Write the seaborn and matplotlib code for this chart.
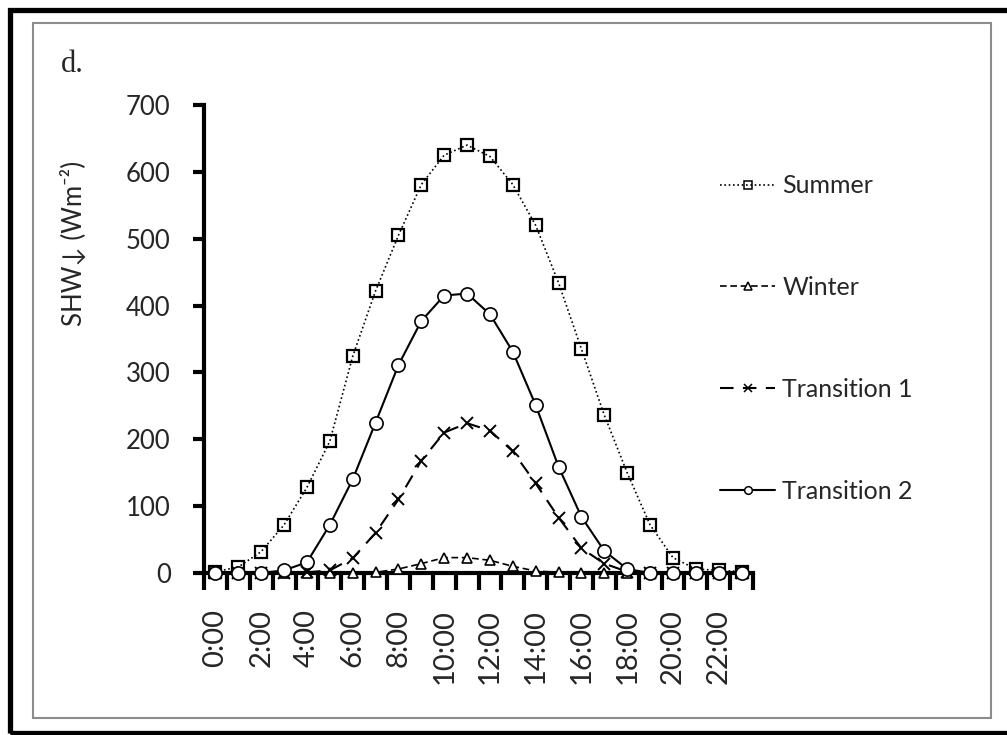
import numpy as np
import pandas as pd
import matplotlib
matplotlib.use("Agg")
import matplotlib.pyplot as plt
from matplotlib.patches import Rectangle
import seaborn as sns

# ---- data ----
hours = [f"{h}:00" for h in range(24)]
summer = [2, 9, 32, 72, 128, 197, 324, 422, 505, 581, 625, 640,
          623, 581, 520, 434, 335, 236, 150, 72, 23, 6, 4, 2]
winter = [0, 0, 0, 0, 0, 0, 0, 1, 6, 14, 23, 23,
          19, 10, 3, 1, 0, 0, 0, 0, 0, 0, 0, 0]
trans1 = [0, 0, 0, 0, 1, 4, 22, 60, 110, 168, 210, 224,
          213, 182, 134, 83, 37, 14, 2, 0, 0, 0, 0, 0]
trans2 = [0, 0, 0, 4, 16, 72, 140, 225, 311, 377, 415, 418,
          387, 331, 251, 159, 84, 33, 6, 0, 0, 0, 0, 0]
series_names = ["Summer", "Winter", "Transition 1", "Transition 2"]
y_ticks = [0, 100, 200, 300, 400, 500, 600, 700]

sns.set_style("ticks")
plt.rcParams["font.family"] = ["Lato", "DejaVu Sans"]

W, H = 1007, 735
fig = plt.figure(figsize=(W / 100, H / 100), dpi=100)
ax = fig.add_axes([204 / W, 1 - 573 / H, (753 - 204) / W, (573 - 105) / H])

x = np.arange(len(hours))
df = pd.DataFrame({"x": x, "Summer": summer, "Winter": winter,
                   "Transition 1": trans1, "Transition 2": trans2})

styles = {
    "Summer": dict(marker="s", markersize=8.5, markerfacecolor="none",
                   markeredgewidth=1.6, linestyle=(0, (1, 1.6)), linewidth=1.2),
    "Winter": dict(marker="^", markersize=7.5, markerfacecolor="white",
                   markeredgewidth=1.2, linestyle=(0, (4, 2.2)), linewidth=1.2),
    "Transition 1": dict(marker="x", markersize=8.5, markerfacecolor="none",
                         markeredgewidth=1.4, linestyle=(0, (6.5, 4.5)), linewidth=1.5),
    "Transition 2": dict(marker="o", markersize=9.5, markerfacecolor="white",
                         markeredgewidth=1.2, linestyle="-", linewidth=1.5),
}

for name in series_names:
    sns.lineplot(data=df, x="x", y=name, ax=ax, color="black",
                 markeredgecolor="black", label=name, clip_on=False,
                 zorder=5, **styles[name])

ax.set_xlim(-0.5, 23.5)
ax.set_ylim(0, 700)
ax.set_yticks(y_ticks)
ax.set_yticklabels([str(v) for v in y_ticks])
ax.set_xticks(x[::2])
ax.set_xticklabels(hours[::2], rotation=90)
ax.set_xticks(np.arange(-0.5, 24, 1), minor=True)
ax.tick_params(axis="x", which="major", length=0, pad=26, labelsize=21)
ax.tick_params(axis="x", which="minor", length=12, width=3, direction="out", color="black")
ax.tick_params(axis="y", which="major", length=8, width=3, direction="out",
               pad=16, labelsize=18.5, color="black")
ax.set_xlabel("")
ax.set_ylabel("")
for s in ["top", "right"]:
    ax.spines[s].set_visible(False)
for s in ["left", "bottom"]:
    ax.spines[s].set_linewidth(3)
    ax.spines[s].set_color("black")
    ax.spines[s].set_zorder(4)

# legend
handles, labels = ax.get_legend_handles_labels()
leg = ax.legend(handles, labels, loc="center left",
                bbox_to_anchor=(720 / W, 1 - 338.5 / H),
                bbox_transform=fig.transFigure, frameon=False,
                fontsize=18, handlelength=2.2, handletextpad=0.3,
                labelspacing=3.15, borderpad=0, borderaxespad=0, numpoints=1)
for h in leg.legend_handles:
    h.set_markersize(5.5)
    h.set_markeredgewidth(1.1)

# texts
fig.text(73 / W, 1 - 243 / H, "SHW\u2193 (Wm\u207b\u00b2)", rotation=90,
         ha="center", va="center", fontsize=18.5, family=["Lato", "DejaVu Sans"])
fig.text(61 / W, 1 - 72 / H, "d.", fontsize=22, family="Liberation Serif",
         ha="left", va="baseline")

# frames
fig.add_artist(Rectangle((33 / W, 1 - 718 / H), (991 - 33) / W, (718 - 23) / H,
                         transform=fig.transFigure, fill=False,
                         edgecolor="#8c8c8c", linewidth=1.5))
fig.add_artist(Rectangle((9.5 / W, 1 - 732.5 / H), (1015 - 9.5) / W, (732.5 - 9.5) / H,
                         transform=fig.transFigure, fill=False,
                         edgecolor="black", linewidth=3.8))

fig.savefig("out.png", dpi=100)
